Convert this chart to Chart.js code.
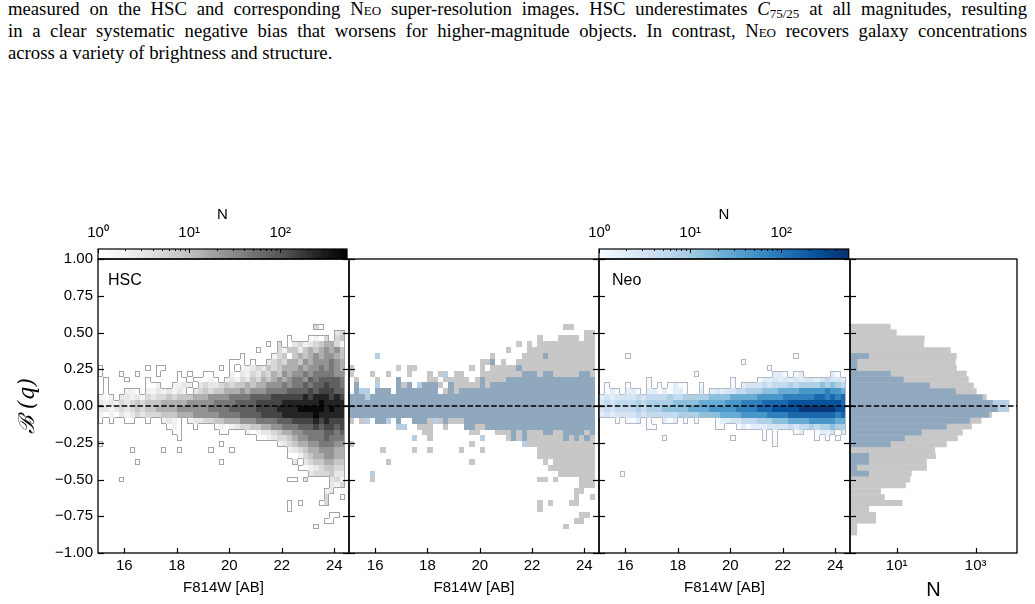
<!DOCTYPE html>
<html>
<head>
<meta charset="utf-8">
<title>Concentration bias vs F814W</title>
<script src="https://cdn.jsdelivr.net/npm/chart.js@4.4.1/dist/chart.umd.min.js"></script>
<style>
  html, body { margin: 0; padding: 0; background: #fff; }
  body { position: relative; width: 1035px; height: 604px; overflow: hidden; font-family: "Liberation Sans", Arial, sans-serif; color: #000; }
  canvas { position: absolute; }
  .cap { position: absolute; left: 8px; width: 1019px; font-family: "Liberation Serif", "Times New Roman", serif; font-size: 18.7px; line-height: 22px; text-align: justify; text-align-last: justify; }
  .cap.last { text-align: left; text-align-last: left; }
  .sc { font-variant: small-caps; }
  .cap sub { font-size: 13px; line-height: 0; vertical-align: -3px; }
  .tag { position: absolute; font-size: 16px; line-height: 16px; }
</style>
</head>
<body>
<div class="cap" style="top:-2px">measured on the HSC and corresponding <span class="sc">Neo</span> super-resolution images. HSC underestimates <i>C</i><sub>75/25</sub> at all magnitudes, resulting</div>
<div class="cap" style="top:20px">in a clear systematic negative bias that worsens for higher-magnitude objects. In contrast, <span class="sc">Neo</span> recovers galaxy concentrations</div>
<div class="cap last" style="top:42px">across a variety of brightness and structure.</div>

<canvas id="cbHsc" width="273" height="56" style="left:78px;top:205px"></canvas>
<canvas id="cbNeo" width="273" height="56" style="left:579px;top:205px"></canvas>
<canvas id="pHsc" width="351" height="364" style="left:0px;top:240px"></canvas>
<canvas id="pBoth" width="254" height="364" style="left:347px;top:240px"></canvas>
<canvas id="pNeo" width="255" height="364" style="left:597px;top:240px"></canvas>
<canvas id="pHist" width="171" height="364" style="left:848px;top:240px"></canvas>

<div class="tag" style="left:108px;top:272px">HSC</div>
<div class="tag" style="left:612px;top:272px">Neo</div>

<script>
// ---- data -------------------------------------------------------------
const X_MIN = 15.0, X_MAX = 24.56;      // F814W limits of the 2d panels
const N_MIN = 0.658, N_MAX = 11120;     // limits of the histogram panel
const X_BIN = 0.2, NX = 47;             // 2d bins along F814W, from X_MIN
const Y_BIN = 0.04, GRID_TOP = 0.56;    // 2d bins along B(q), rows listed from GRID_TOP down

const X_TICKS = [16, 18, 20, 22, 24];
const Y_TICKS = [-1, -0.75, -0.5, -0.25, 0, 0.25, 0.5, 0.75, 1];
const N_TICKS = [10, 1000];
const CB_TICKS = [1, 10, 100];
const HSC_VMAX = 540, NEO_VMAX = 550;

// one character per cell, shade
const SHADE_KEYS = '.123456789abc';
const SHADE_COUNTS = [0, 1, 2, 3, 5, 8, 14, 25, 45, 80, 140, 250, 450];

const HSC_ROWS = [
  "..........|..........|..........|..........|.41....",
  "..........|..........|..........|..........|.....34",
  "..........|..........|..........|......1...|1214.45",
  "..........|..........|..........|..1.4.1342|3456642",
  "..........|..........|..........|1...425535|6567675",
  "..........|..........|.......1..|...2451565|6767765",
  "..........|..........|.....111.1|..34546657|6777876",
  "1........1|.11.......|...1.1.223|4354566676|7787876",
  "1...1..1..|.1...1.1..|11...21324|3546576778|7888877",
  ".1...1...1|.....11.11|121.232435|4656767887|9899998",
  ".1.......1|12..2232.3|4334545565|6677787889|899a998",
  ".1...221.2|2323232.34|5455666767|7788889999|a9aaa99",
  "212.332324|3445455566|6777788889|999aaaaaab|abbbaba",
  "3232434545|5566666777|7788889999|aaaaabbbbb|bbcbbbb",
  "3323434545|5666677777|7888899999|aaaabbbbcc|cccbcbb",
  "2121323434|4455566677|7778888999|9aaaabbbbb|bcbbbbb",
  "1.1..11..1|..2321.233|4455666777|8888999aaa|ababaaa",
  "..........|...121..1.|..12123445|5667788899|9a9aa9a",
  "..........|....11....|...11...21|2334566778|8889989",
  "..........|.....1....|..........|1123445677|8889888",
  "1.........|..........|...1......|....234566|7788877",
  "......1...|..1..1....|.1...1....|......2345|6677766",
  "..........|..........|..........|......1124|5667766",
  ".......1..|..........|...1......|.......3.3|4556655",
  "..........|..........|..........|........11|2345544",
  "..........|..........|..........|..........|3444533",
  "....1.....|..........|..........|......11.3|....342",
  "..........|..........|..........|..........|....324",
  "..........|..........|..........|..........|...23..",
  "..........|..........|..........|..........|...4..1",
  "..........|..........|..........|......1.1.|..14...",
  "..........|..........|..........|......1...|.......",
  "..........|..........|..........|..........|....11.",
  "..........|..........|..........|..........|...11..",
  "..........|..........|..........|..........|.1.....",
  "..........|..........|..........|..........|......."
];

const NEO_ROWS = [
  "..........|..........|..........|..........|.......",
  "..........|..........|..........|..........|.......",
  "..........|..........|..........|..........|.......",
  "..........|..........|..........|..........|.......",
  "..........|..........|..........|..........|.......",
  ".....1....|..........|..........|.......1..|.......",
  "..........|..........|.......1..|..........|.......",
  "..........|..........|..........|..1.......|.......",
  "..........|........1.|..........|...221.12.|....21.",
  ".........1|..........|.....1....|1223232323|3234332",
  ".1...1...1|.1.1211..1|.....1.233|3434445455|5565654",
  ".121.221.2|2121221..2|.232334455|5666777788|8889887",
  "2323333434|4445445555|5666677777|8888899999|9aa9a9a",
  "3434444545|5555666667|7777888999|9aaaaabbbb|bbbbbba",
  "3434444545|5566666777|7888889999|aaabbbbbcc|cccccbb",
  "2323333434|4444455556|6667777888|889999aaaa|aaaaa9a",
  "...1.112.1|..212.1.1.|..12233444|5556667777|8888877",
  ".........1|1.........|..11..1212|2233334344|5455655",
  "..........|..........|..........|.1.1...12.|.1223.2",
  "..........|..1.......|.....1....|.1.1......|.1.1.1.",
  "..........|..........|..........|...1......|.......",
  "..........|..........|..........|..........|.......",
  "..........|..........|..........|..........|.......",
  "..........|..........|..........|..........|.......",
  "..........|..........|..........|..........|.......",
  "....1.....|..........|..........|..........|......."
];

// marginal histograms of B(q), bins of Y_BIN from HIST_Y_MIN upwards
const HIST_Y_MIN = -0.88;
const HSC_YHIST = [1, 1, 3, 3, 2, 14, 5, 4, 17, 22, 24, 58, 58, 98, 94, 185, 350, 470, 800, 1400,
                   2600, 3600, 2700, 1900, 1060, 895, 667, 593, 331, 312, 331, 233, 49, 51, 10, 7];
const NEO_YHIST = [0, 0, 0, 0, 0, 0, 0, 0, 0, 0, 2, 1, 2, 2, 0, 7, 16, 43, 185, 725,
                   2200, 7100, 7100, 1500, 312, 69, 15, 7, 1, 1, 2, 0, 0, 0, 0, 0];

// ---- styles -----------------------------------------------------------
const GREYS = ['#ffffff', '#f0f0f0', '#d9d9d9', '#bdbdbd', '#969696', '#737373', '#525252', '#252525', '#000000'];
const BLUES = ['#f7fbff', '#deebf7', '#c6dbef', '#9ecae1', '#6baed6', '#4292c6', '#2171b5', '#08519c', '#08306b'];
const HSC_FLAT = 'rgba(0,0,0,0.22)';
const NEO_FLAT = 'rgba(15,97,169,0.30)';
const SANS = "'Liberation Sans', Arial, sans-serif";
const TICK_FONT = { family: SANS, size: 15 };
const NO_GRID = { display: false, drawTicks: false };

const SUP = { 0: '\u2070', 1: '\u00b9', 2: '\u00b2', 3: '\u00b3', 4: '\u2074' };
const fmtPow = v => {
    const e = Math.round(Math.log10(v));
    return Math.abs(Math.log10(v) - e) < 1e-9 ? '10' + SUP[e] : '';
};
const fmtY = v => v.toFixed(2).replace('-', '\u2212');

/**
 * Decode shade rows into a count grid (row 0 = top)
 */
function decodeRows(rows) {
    return rows.map(r => {
        const s = r.replace(/\|/g, '');
        const out = [];
        for (let i = 0; i < NX; i++) {
            out.push(SHADE_COUNTS[Math.max(0, SHADE_KEYS.indexOf(s[i] || '.'))]);
        }
        return out;
    });
}

const HSC_GRID = decodeRows(HSC_ROWS);
const NEO_GRID = decodeRows(NEO_ROWS);

function hexRgb(h) {
    return [1, 3, 5].map(i => parseInt(h.substr(i, 2), 16));
}

function cmap(stops, t) {
    t = Math.max(0, Math.min(1, t));
    const pos = t * (stops.length - 1);
    const i = Math.min(Math.floor(pos), stops.length - 2);
    const f = pos - i;
    const a = hexRgb(stops[i]), b = hexRgb(stops[i + 1]);
    const c = a.map((v, k) => Math.round(v + (b[k] - v) * f));
    return `rgb(${c[0]},${c[1]},${c[2]})`;
}

// ---- plugins ----------------------------------------------------------
/**
 * 2d histogram cells, placed through the chart scales
 */
function hist2dPlugin(layers) {
    return {
        id: 'hist2d',
        beforeDatasetsDraw(chart) {
            const { ctx, chartArea: a, scales: { x, y } } = chart;
            ctx.save();
            ctx.beginPath();
            ctx.rect(a.left, a.top, a.width, a.height);
            ctx.clip();

            layers.forEach(layer => {
                const g = layer.grid;
                const px = i => Math.round(x.getPixelForValue(X_MIN + i * X_BIN));
                const py = k => Math.round(y.getPixelForValue(GRID_TOP - k * Y_BIN));

                g.forEach((row, k) => row.forEach((n, i) => {
                    if (!n) return;
                    ctx.fillStyle = layer.flat || cmap(layer.stops, Math.log(n) / Math.log(layer.vmax));
                    ctx.fillRect(px(i), py(k), px(i + 1) - px(i), py(k + 1) - py(k));
                }));

                if (!layer.outline) return;
                const has = (k, i) => k >= 0 && k < g.length && i >= 0 && i < NX && g[k][i] > 0;
                ctx.strokeStyle = layer.outline;
                ctx.lineWidth = 1;
                ctx.beginPath();
                g.forEach((row, k) => row.forEach((n, i) => {
                    if (!n) return;
                    const x0 = px(i) + 0.5, x1 = px(i + 1) - 0.5;
                    const y0 = py(k) + 0.5, y1 = py(k + 1) - 0.5;
                    if (!has(k - 1, i)) { ctx.moveTo(x0 - 0.5, y0); ctx.lineTo(x1 + 0.5, y0); }
                    if (!has(k + 1, i)) { ctx.moveTo(x0 - 0.5, y1); ctx.lineTo(x1 + 0.5, y1); }
                    if (!has(k, i - 1)) { ctx.moveTo(x0, y0 - 0.5); ctx.lineTo(x0, y1 + 0.5); }
                    if (!has(k, i + 1)) { ctx.moveTo(x1, y0 - 0.5); ctx.lineTo(x1, y1 + 0.5); }
                }));
                ctx.stroke();
            });
            ctx.restore();
        }
    };
}

/**
 * Spines, inward ticks and the zero line
 */
function framePlugin(cfg) {
    return {
        id: 'frame',
        afterDatasetsDraw(chart) {
            const { ctx, chartArea: a, scales: { x, y } } = chart;
            const line = (x0, y0, x1, y1) => { ctx.beginPath(); ctx.moveTo(x0, y0); ctx.lineTo(x1, y1); ctx.stroke(); };
            ctx.save();
            ctx.strokeStyle = '#000';

            const y0 = y.getPixelForValue(0);
            ctx.lineWidth = 1.5;
            ctx.setLineDash([5.5, 2.4]);
            line(a.left, y0, a.right, y0);
            ctx.setLineDash([]);

            ctx.lineWidth = 1.2;
            cfg.xTicks.forEach(v => {
                const p = Math.round(x.getPixelForValue(v)) + 0.5;
                line(p, a.bottom, p, a.bottom - 5);
            });
            Y_TICKS.forEach(v => {
                const p = Math.round(y.getPixelForValue(v)) + 0.5;
                line(a.left, p, a.left + 6, p);
                if (cfg.right) line(a.right, p, a.right - 6, p);
            });

            ctx.lineWidth = 1.3;
            ctx.strokeRect(a.left, a.top, a.width, a.height);
            ctx.restore();
        }
    };
}

/**
 * Colour bar gradient and ticks
 */
function colorbarPlugin(stops) {
    return {
        id: 'cbar',
        beforeDatasetsDraw(chart) {
            const { ctx, chartArea: a, scales: { x } } = chart;
            const grad = ctx.createLinearGradient(a.left, 0, a.right, 0);
            stops.forEach((c, i) => grad.addColorStop(i / (stops.length - 1), c));
            ctx.save();
            ctx.fillStyle = grad;
            ctx.fillRect(a.left, a.top, a.width, a.height);
            ctx.strokeStyle = '#000';
            ctx.lineWidth = 1;
            x.ticks.forEach(t => {
                const p = Math.round(x.getPixelForValue(t.value)) + 0.5;
                const len = CB_TICKS.includes(t.value) ? 4 : 2;
                ctx.beginPath();
                ctx.moveTo(p, a.top);
                ctx.lineTo(p, a.top + len);
                ctx.stroke();
            });
            ctx.lineWidth = 1.2;
            ctx.strokeRect(a.left, a.top, a.width, a.height);
            ctx.restore();
        }
    };
}

// ---- charts -----------------------------------------------------------
const baseOptions = {
    animation: false,
    responsive: false,
    events: [],
    plugins: { legend: { display: false }, tooltip: { enabled: false } }
};

function makePanel(id, layers, showY) {
    return new Chart(document.getElementById(id), {
        type: 'scatter',
        data: { datasets: [] },
        options: {
            ...baseOptions,
            layout: { padding: { left: showY ? 0 : 2, right: 2, top: 19, bottom: 0 } },
            scales: {
                x: {
                    type: 'linear', min: X_MIN, max: X_MAX,
                    afterBuildTicks: s => { s.ticks = X_TICKS.map(v => ({ value: v })); },
                    afterFit: s => { s.height = 51; },
                    grid: NO_GRID, border: { display: false },
                    ticks: { padding: 4, color: '#000', font: TICK_FONT, maxRotation: 0, autoSkip: false, callback: v => String(v) },
                    title: { display: true, text: 'F814W [AB]', color: '#000', font: TICK_FONT, padding: { top: 0, bottom: 7 } }
                },
                y: {
                    type: 'linear', min: -1, max: 1, display: showY,
                    afterBuildTicks: s => { s.ticks = Y_TICKS.map(v => ({ value: v })); },
                    afterFit: s => { s.width = showY ? 98 : 0; },
                    grid: NO_GRID, border: { display: false },
                    ticks: { padding: 5, color: '#000', font: TICK_FONT, callback: v => fmtY(v) },
                    title: {
                        display: true, text: '\u212c (q)', color: '#000',
                        font: { family: "'DejaVu Serif', serif", style: 'italic', size: 22 },
                        padding: { top: 15, bottom: 0 }
                    }
                }
            }
        },
        plugins: [hist2dPlugin(layers), framePlugin({ xTicks: X_TICKS, right: true })]
    });
}

function makeColorbar(id, stops, vmax) {
    const ticks = [];
    CB_TICKS.forEach(d => {
        for (let m = 1; m <= 9; m++) if (d * m <= vmax) ticks.push(d * m);
    });
    return new Chart(document.getElementById(id), {
        type: 'scatter',
        data: { datasets: [] },
        options: {
            ...baseOptions,
            layout: { padding: { left: 20, right: 2, top: 0, bottom: 2 } },
            scales: {
                x: {
                    type: 'logarithmic', position: 'top', min: 1, max: vmax,
                    afterBuildTicks: s => { s.ticks = ticks.map(v => ({ value: v })); },
                    afterFit: s => { s.height = 44; },
                    grid: NO_GRID, border: { display: false },
                    ticks: { padding: 7, color: '#000', font: TICK_FONT, maxRotation: 0, autoSkip: false, callback: v => fmtPow(v) },
                    title: { display: true, text: 'N', color: '#000', font: TICK_FONT, padding: { top: 1, bottom: 0 } }
                },
                y: { display: false, min: 0, max: 1 }
            }
        },
        plugins: [colorbarPlugin(stops)]
    });
}

function makeHistogram(id) {
    const centers = HSC_YHIST.map((_, j) => HIST_Y_MIN + (j + 0.5) * Y_BIN);
    return new Chart(document.getElementById(id), {
        type: 'bar',
        data: {
            datasets: [
                { data: NEO_YHIST.map((n, j) => ({ x: n, y: centers[j] })), backgroundColor: NEO_FLAT },
                { data: HSC_YHIST.map((n, j) => ({ x: n, y: centers[j] })), backgroundColor: HSC_FLAT }
            ]
        },
        options: {
            ...baseOptions,
            indexAxis: 'y',
            grouped: false,
            barPercentage: 1,
            categoryPercentage: 1,
            inflateAmount: 0,
            layout: { padding: { left: 2, right: 2, top: 19, bottom: 0 } },
            scales: {
                x: {
                    type: 'logarithmic', min: N_MIN, max: N_MAX,
                    afterBuildTicks: s => { s.ticks = N_TICKS.map(v => ({ value: v })); },
                    afterFit: s => { s.height = 51; },
                    grid: NO_GRID, border: { display: false },
                    ticks: { padding: 4, color: '#000', font: TICK_FONT, maxRotation: 0, autoSkip: false, callback: v => fmtPow(v) },
                    title: { display: true, text: 'N', color: '#000', font: { family: SANS, size: 20 }, padding: { top: 0, bottom: 2 } }
                },
                y: { type: 'linear', min: -1, max: 1, offset: false, display: false }
            }
        },
        plugins: [framePlugin({ xTicks: N_TICKS, right: false })]
    });
}

makeColorbar('cbHsc', GREYS, HSC_VMAX);
makeColorbar('cbNeo', BLUES, NEO_VMAX);
makePanel('pHsc', [{ grid: HSC_GRID, stops: GREYS, vmax: HSC_VMAX, outline: '#a4a4a4' }], true);
makePanel('pBoth', [{ grid: HSC_GRID, flat: HSC_FLAT }, { grid: NEO_GRID, flat: NEO_FLAT }], false);
makePanel('pNeo', [{ grid: NEO_GRID, stops: BLUES, vmax: NEO_VMAX, outline: '#b4b8c4' }], false);
makeHistogram('pHist');
</script>
</body>
</html>
